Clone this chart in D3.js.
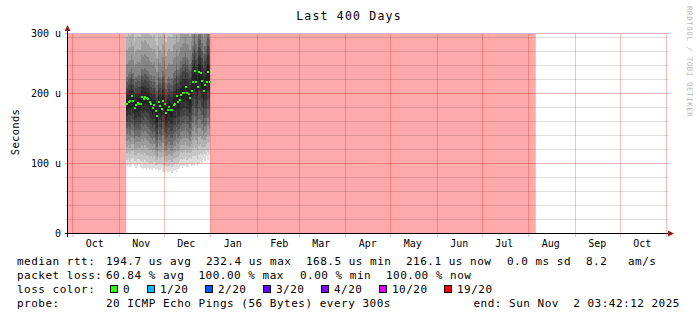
<!DOCTYPE html>
<html lang="en">
<head>
<meta charset="UTF-8">
<title>Last 400 Days</title>
<script src="https://d3js.org/d3.v7.min.js"></script>
<style>
    body { margin: 0; background: #fff; }
    svg text { font-family: "DejaVu Sans Mono", monospace; fill: #000; white-space: pre; }
</style>
</head>
<body>
<svg id="chart" width="697" height="321"></svg>
<script>
// graph window (times are the local clock of the probe)
const endTime = new Date(Date.UTC(2025, 10, 2, 3, 42, 12));
const startTime = d3.utcDay.offset(endTime, -400);

// periods with 100% packet loss
const lossFrom = [startTime, new Date(Date.UTC(2025, 0, 1))];
const lossTo   = [new Date(Date.UTC(2024, 10, 6)), new Date(Date.UTC(2025, 7, 6))];

// daily ping values (us) from 2024-11-06 to 2024-12-31
const smokeStart = new Date(Date.UTC(2024, 10, 6));
const median = [184.7,187.6,189.4,196.1,189.4,179.0,182.9,186.6,184.7,184.7,
                195.1,192.3,194.3,193.3,192.3,187.6,184.7,179.0,182.9,174.3,
                168.5,187.6,181.9,178.0,189.4,184.7,171.9,177.1,180.4,177.1,
                176.1,183.7,185.7,196.1,187.6,190.4,198.0,200.9,200.9,208.6,
                200.0,199.0,193.3,202.9,217.1,232.4,216.1,208.6,230.4,228.6,
                217.3,202.9,212.3,216.0,230.4,216.1];
const pingMin = [96,98,95,97,99,96,94,97,99,95,
                 93,92,94,91,93,90,92,91,93,90,
                 92,89,91,93,88,87,89,86,88,90,
                 87,89,91,88,92,95,97,94,96,98,
                 95,97,99,96,98,97,100,96,99,104,
                 101,108,103,110,105,112];
const pingQ1 = [142,145,140,148,146,136,139,141,138,140,
                146,143,147,145,142,139,137,133,136,129,
                124,138,133,130,140,135,125,128,131,127,
                126,132,134,142,136,139,145,147,146,152,
                146,144,140,148,158,166,155,150,164,162,
                157,148,154,156,165,158];
const pingQ3 = [224,228,230,236,229,220,224,227,226,225,
                235,233,236,234,232,228,226,221,225,217,
                212,230,224,220,232,227,215,220,224,221,
                222,229,232,244,234,238,246,250,252,258,
                250,248,242,254,268,285,270,262,290,288,
                272,258,268,275,292,278];
const pingMax = [318,322,320,330,326,312,316,320,318,317,
                 335,332,336,334,330,326,322,318,322,314,
                 308,326,320,316,330,324,312,318,322,318,
                 320,328,330,342,334,338,346,352,354,362,
                 352,350,344,358,372,390,376,366,394,392,
                 378,362,372,380,396,382];

const yMax = 285.7;
const yTicks = [0, 100, 200, 300];
const yTickLabels = ["0", "100 u", "200 u", "300 u"];
const monthLabels = ["Oct","Nov","Dec","Jan","Feb","Mar","Apr","May","Jun","Jul","Aug","Sep","Oct"];

const lossLabels = ["0", "1/20", "2/20", "3/20", "4/20", "10/20", "19/20"];
const lossColors = ["#26ff00", "#00b8ff", "#0059ff", "#5e00ff", "#7e00ff", "#dd00ff", "#ff0000"];

// smoke shades, outermost band first
const smokeGreys = ["#dcdcdc", "#c6c6c6", "#b2b2b2", "#9c9c9c", "#868686",
                    "#6e6e6e", "#585858", "#444444", "#323232", "#222222"];

const svg = d3.select("#chart");
const x = d3.scaleUtc().domain([startTime, endTime]).range([68, 668]);
const y = d3.scaleLinear().domain([0, yMax]).range([233.5, 33.5]).clamp(true);

// loss background
svg.append("g").selectAll("rect")
    .data(lossFrom)
    .join("rect")
    .attr("x", d => x(d))
    .attr("width", (d, i) => x(lossTo[i]) - x(d))
    .attr("y", y(yMax) - 0.5)
    .attr("height", y(0) - y(yMax) + 0.5)
    .attr("fill", "#ffaaaa");

// smoke: band k runs between the lower and upper edge at depth t = k / 10
function lowEdge(i, t) {
    return t < 0.5 ? pingMin[i] + (pingQ1[i] - pingMin[i]) * t * 2
                   : pingQ1[i] + (median[i] - pingQ1[i]) * (t - 0.5) * 2;
}
function highEdge(i, t) {
    return t < 0.5 ? pingMax[i] + (pingQ3[i] - pingMax[i]) * t * 2
                   : pingQ3[i] + (median[i] - pingQ3[i]) * (t - 0.5) * 2;
}
const days = median.map((m, i) => d3.utcDay.offset(smokeStart, i));
const smoke = svg.append("g").attr("shape-rendering", "crispEdges");
smokeGreys.forEach((c, k) => {
    const t = k / smokeGreys.length;
    smoke.append("g").selectAll("rect")
        .data(days)
        .join("rect")
        .attr("x", d => x(d))
        .attr("width", d => x(d3.utcDay.offset(d, 1)) - x(d))
        .attr("y", (d, i) => y(highEdge(i, t)))
        .attr("height", (d, i) => y(lowEdge(i, t)) - y(highEdge(i, t)))
        .attr("fill", c);
});

// median, coloured by loss (0 loss here)
svg.append("g").attr("shape-rendering", "crispEdges").selectAll("rect")
    .data(days)
    .join("rect")
    .attr("x", d => Math.round(x(d)))
    .attr("width", 2)
    .attr("y", (d, i) => Math.round(y(median[i])) - 1)
    .attr("height", 2)
    .attr("fill", lossColors[0]);

// grid
const grid = svg.append("g").attr("shape-rendering", "crispEdges");
const minor = d3.range(20, 300, 20).filter(v => v % 100 !== 0);
grid.selectAll(".minor")
    .data(minor)
    .join("line")
    .attr("x1", 65).attr("x2", 669)
    .attr("y1", d => Math.round(y(d) - 0.5) + 0.5)
    .attr("y2", d => Math.round(y(d) - 0.5) + 0.5)
    .attr("stroke", "rgba(0,0,0,0.13)");
grid.selectAll(".major")
    .data(yTicks.slice(1))
    .join("line")
    .attr("x1", 65).attr("x2", 669)
    .attr("y1", d => y(d)).attr("y2", d => y(d))
    .attr("stroke", "rgba(230,0,0,0.28)");
const months = d3.utcMonth.range(d3.utcMonth.ceil(startTime), endTime);
grid.selectAll(".vert")
    .data(months)
    .join("line")
    .attr("x1", d => Math.round(x(d)) + 0.5).attr("x2", d => Math.round(x(d)) + 0.5)
    .attr("y1", 33).attr("y2", 237)
    .attr("stroke", "rgba(230,0,0,0.25)");

// top edge of the measured range
svg.append("line")
    .attr("x1", x(startTime)).attr("x2", x(lossTo[1]))
    .attr("y1", 33.5).attr("y2", 33.5)
    .attr("stroke", "#d2b2ee");

// axes
svg.append("line").attr("x1", 65).attr("x2", 670).attr("y1", 233.5).attr("y2", 233.5).attr("stroke", "#000");
svg.append("line").attr("x1", 67.5).attr("x2", 67.5).attr("y1", 237).attr("y2", 29).attr("stroke", "#000");
svg.append("path").attr("d", "M668,230.5L674,233.5L668,236.5Z").attr("fill", "#8b1e1e");
svg.append("path").attr("d", "M64.5,31L67.5,25L70.5,31Z").attr("fill", "#8b1e1e");

// y tick labels
svg.append("g").selectAll("text")
    .data(yTicks)
    .join("text")
    .attr("x", 61)
    .attr("y", d => y(d) + 3.5)
    .attr("text-anchor", "end")
    .style("font-size", "10px")
    .text((d, i) => yTickLabels[i]);

// month labels, centred in their month
svg.append("g").selectAll("text")
    .data(months.slice(0, monthLabels.length))
    .join("text")
    .attr("x", d => x(d3.utcDay.offset(d, 15)))
    .attr("y", 247)
    .attr("text-anchor", "middle")
    .style("font-size", "10px")
    .text((d, i) => monthLabels[i]);

// title, axis label, watermark
svg.append("text").attr("x", 349).attr("y", 20).attr("text-anchor", "middle")
    .style("font-size", "11.5px").style("letter-spacing", "1.2px").text("Last 400 Days");
svg.append("text").attr("transform", "translate(18.5,132) rotate(-90)").attr("text-anchor", "middle")
    .style("font-size", "10.5px").style("letter-spacing", "0.3px").text("Seconds");
svg.append("text").attr("transform", "translate(686.5,6) rotate(90)")
    .style("font-size", "7.5px").style("letter-spacing", "0.55px").style("fill", "#b8b8b8")
    .text("RRDTOOL / TOBI OETIKER");

// legend
const legendRows = [
    [[17, "median rtt:"], [106, "194.7 us avg"], [206, "232.4 us max"], [306, "168.5 us min"],
     [406, "216.1 us now"], [507, "0.0 ms sd"], [586, "8.2"], [628, "am/s"]],
    [[17, "packet loss:"], [106, "60.84 % avg"], [198.5, "100.00 % max"], [300, "0.00 % min"],
     [386, "100.00 % now"]],
    [[17, "loss color:"]],
    [[17, "probe:"], [106, "20 ICMP Echo Pings (56 Bytes) every 300s"]]
];
const rowY = [265, 279, 293, 307];
const legend = svg.append("g").style("font-size", "11px").style("letter-spacing", "0.5px");
legendRows.forEach((row, r) => {
    row.forEach(([lx, t]) => legend.append("text").attr("x", lx).attr("y", rowY[r]).text(t));
});
legend.append("text").attr("x", 680).attr("y", rowY[3]).attr("text-anchor", "end")
    .text("end: Sun Nov  2 03:42:12 2025");

const boxX = [110, 147, 205, 263, 321, 379, 444];
lossLabels.forEach((t, i) => {
    legend.append("rect")
        .attr("x", boxX[i] + 0.5).attr("y", 285.5)
        .attr("width", 7).attr("height", 7)
        .attr("fill", lossColors[i]).attr("stroke", "#000");
    legend.append("text").attr("x", boxX[i] + 13).attr("y", rowY[2]).text(t);
});
</script>
</body>
</html>
